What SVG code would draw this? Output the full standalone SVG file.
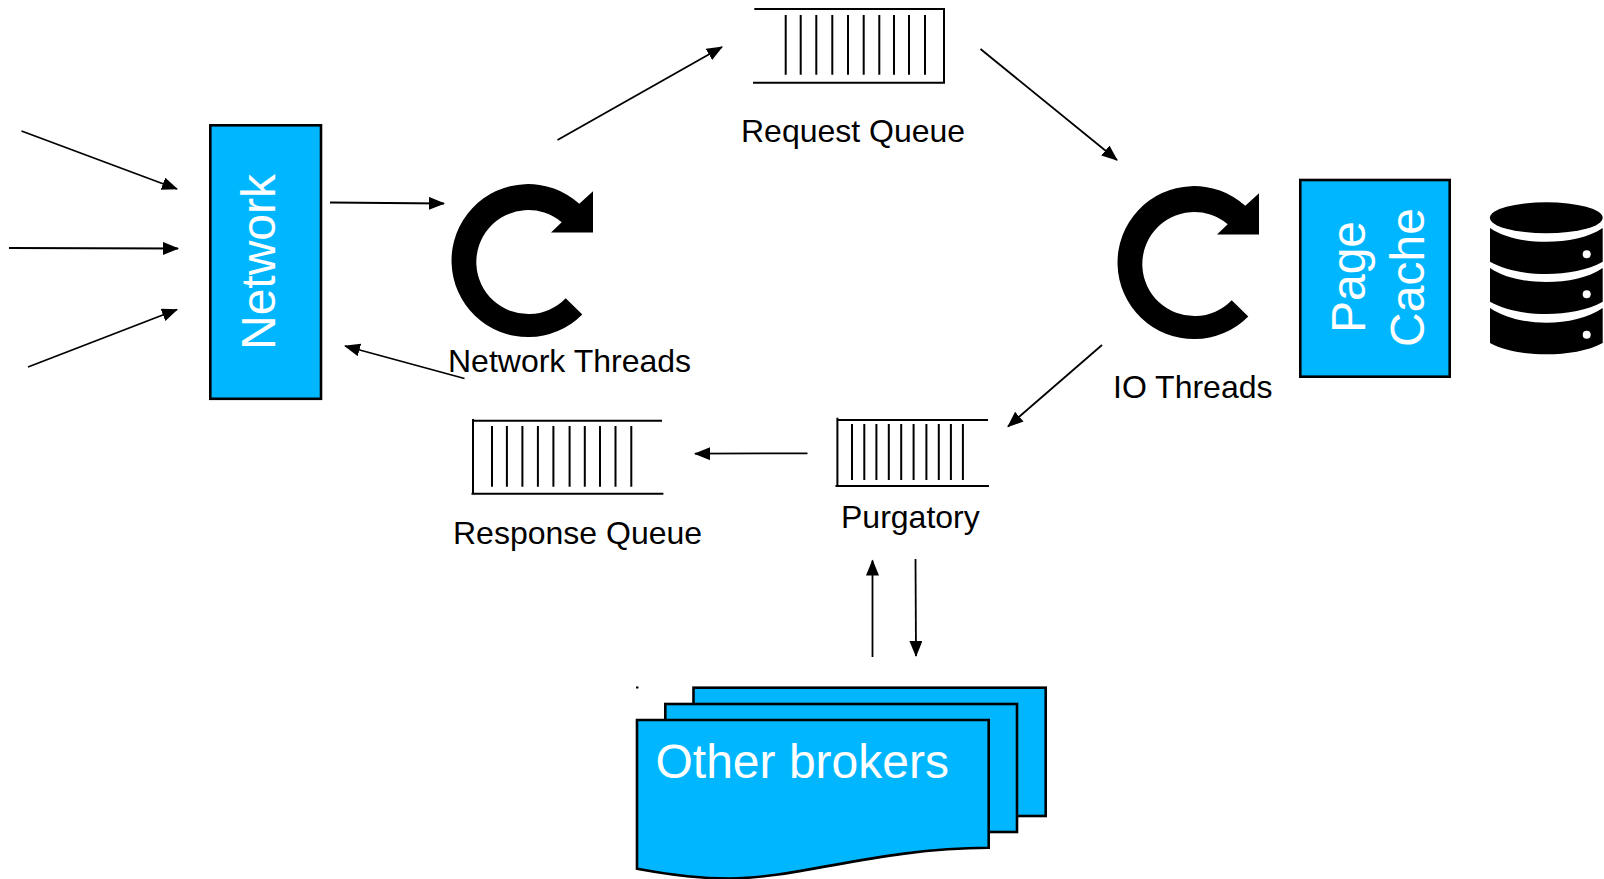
<svg xmlns="http://www.w3.org/2000/svg" width="1604" height="879" viewBox="0 0 1604 879">
<style>
.lbl{font-family:"Liberation Sans",Arial,sans-serif;font-size:32px;fill:#000}
.wht{font-family:"Liberation Sans",Arial,sans-serif;font-size:48px;fill:#fff}
.box{fill:#00b7ff;stroke:#000;stroke-width:2.6}
.q{fill:none;stroke:#000;stroke-width:2}
.conn{fill:none;stroke:#000;stroke-width:1.8;marker-end:url(#ah)}
</style>
<defs>
<marker id="ah" markerUnits="userSpaceOnUse" markerWidth="18" markerHeight="14" refX="15" refY="6.5" orient="auto"><path d="M0 0L16 6.5L0 13Z" fill="#000"/></marker>
<path id="spin" d="M582.3 314A76.5 76.5 0 1 1 579.3 203.3L593 190.7V232H551L561.7 221.7A52 52 0 1 0 565.7 297.7Z"/>
</defs>
<rect width="1604" height="879" fill="#fff"/>
<g id="connectors">
<line class="conn" x1="21.5" y1="131" x2="177" y2="189"/>
<line class="conn" x1="9" y1="248" x2="178" y2="248.5"/>
<line class="conn" x1="28" y1="367" x2="177" y2="309.5"/>
<line class="conn" x1="330" y1="202.5" x2="444" y2="203.5"/>
<line class="conn" x1="464.5" y1="378.5" x2="345" y2="346"/>
<line class="conn" x1="557.5" y1="140" x2="722" y2="47"/>
<line class="conn" x1="980.5" y1="49" x2="1117" y2="160"/>
<line class="conn" x1="1102" y1="345" x2="1008" y2="426.5"/>
<line class="conn" x1="807.5" y1="453.3" x2="695" y2="453.7"/>
<line class="conn" x1="872.5" y1="657" x2="872.5" y2="560.5"/>
<line class="conn" x1="915.5" y1="559" x2="916" y2="656"/>
</g>
<g id="network">
<rect class="box" x="210.3" y="125.3" width="110.7" height="273.5"/>
<text class="wht" text-anchor="middle" transform="translate(275 262) rotate(-90)">Network</text>
</g>
<g id="network-threads">
<use href="#spin" y="0.5"/>
<text class="lbl" x="448" y="372">Network Threads</text>
</g>
<g id="request-queue">
<path class="q" d="M754.3 9H944V82.7H753"/>
<path class="q" d="M785.7 15V74.7M800.7 15V74.7M816.3 15V74.7M832.3 15V74.7M848 15V74.7M863.7 15V74.7M879.3 15V74.7M894 15V74.7M909 15V74.7M925 15V74.7"/>
<text class="lbl" x="741" y="142">Request Queue</text>
</g>
<g id="io-threads">
<use href="#spin" x="666" y="2.5"/>
<text class="lbl" x="1113" y="398">IO Threads</text>
</g>
<g id="page-cache">
<rect class="box" x="1300.3" y="180" width="149.4" height="196.7"/>
<text class="wht" text-anchor="middle" transform="translate(1364.5 277) rotate(-90)">Page</text>
<text class="wht" text-anchor="middle" transform="translate(1424 277.5) rotate(-90)">Cache</text>
</g>
<g id="disk">
<ellipse cx="1546.3" cy="217.8" rx="56.4" ry="15.5" fill="#000"/>
<path d="M1490 228C1505 238 1525 241.7 1546.3 241.7S1588 238 1602.7 228V261.7C1588 270 1567 274 1546.3 274S1505 270 1490 261.7Z" fill="#000"/>
<path d="M1490 268C1505 278 1525 282 1546.3 282S1588 278 1602.7 268V301.7C1588 310 1567 314 1546.3 314S1505 310 1490 301.7Z" fill="#000"/>
<path d="M1490 308C1505 318 1525 322.7 1546.3 322.7S1588 318 1602.7 308V343C1588 351 1567 354.3 1546.3 354.3S1505 351 1490 343Z" fill="#000"/>
<circle cx="1586.7" cy="254.3" r="4" fill="#fff"/>
<circle cx="1586.7" cy="294.3" r="4" fill="#fff"/>
<circle cx="1586.7" cy="334.7" r="4" fill="#fff"/>
</g>
<g id="response-queue">
<path class="q" d="M473 419V494M473 420.7H662M471.5 493.7H663.4"/>
<path class="q" d="M492 426V486.7M506.9 426V486.7M522.4 426V486.7M537.9 426V486.7M553.4 426V486.7M569.6 426V486.7M584.8 426V486.7M600 426V486.7M615.5 426V486.7M631.3 426V486.7"/>
<text class="lbl" x="453" y="544">Response Queue</text>
</g>
<g id="purgatory">
<path class="q" d="M837.4 417.7V486.5M837.4 420H988M835.5 486H989"/>
<path class="q" d="M852 424V480M864.3 424V480M876.4 424V480M888.8 424V480M901.2 424V480M913.6 424V480M926.4 424V480M938.8 424V480M950.9 424V480M962.9 424V480"/>
<text class="lbl" x="841" y="528">Purgatory</text>
</g>
<g id="other-brokers">
<rect x="636" y="686.5" width="2.5" height="2" fill="#000"/>
<rect class="box" x="693.5" y="687.7" width="352.2" height="128.3"/>
<rect class="box" x="665.3" y="704" width="351.7" height="128"/>
<path class="box" d="M637 720H988.7V847.7C880 848 800 878 730 878.5C700 878.5 665 874 637 868.7Z"/>
<text class="wht" x="655.5" y="778">Other brokers</text>
</g>
</svg>
